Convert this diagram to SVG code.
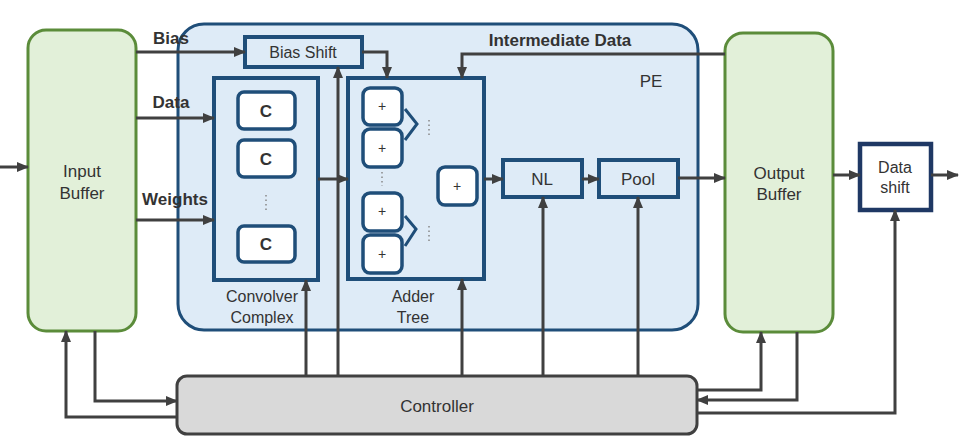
<svg xmlns="http://www.w3.org/2000/svg" width="963" height="440" viewBox="0 0 963 440">
<style>
.t{font-family:"Liberation Sans",Arial,sans-serif;fill:#333;text-anchor:middle}
.b{font-weight:bold}
.buf{fill:#e2f0d9;stroke:#5b8c3a;stroke-width:3}
.blk{fill:#deebf7;stroke:#1f4e79;stroke-width:4}
.cell{fill:#fff;stroke:#1f4e79;stroke-width:3.5}
.ln{fill:none;stroke:#404040;stroke-width:3}
.dot{fill:none;stroke:#888;stroke-width:1.5;stroke-dasharray:1.5 3}
</style>
<defs>
<marker id="a" markerUnits="userSpaceOnUse" markerWidth="12" markerHeight="10" refX="11" refY="5" orient="auto">
<path d="M0,0 L12,5 L0,10 z" fill="#404040"/>
</marker>
</defs>
<rect width="963" height="440" fill="#fff"/>
<g id="pe">
<rect x="178" y="24" width="520" height="306" rx="26" fill="#deebf7" stroke="#1f4e79" stroke-width="3"/>
<text class="t" x="651" y="87" font-size="17">PE</text>
</g>
<g id="input-buffer">
<rect class="buf" x="28" y="30" width="108" height="301" rx="18"/>
<text class="t" x="82" y="177" font-size="17">Input</text>
<text class="t" x="82" y="199" font-size="17">Buffer</text>
</g>
<g id="output-buffer">
<rect class="buf" x="725" y="33" width="108" height="299" rx="18"/>
<text class="t" x="779" y="179" font-size="17">Output</text>
<text class="t" x="779" y="200" font-size="17">Buffer</text>
</g>
<g id="bias-shift">
<rect class="blk" x="245" y="37" width="117" height="30" stroke="#1f3864"/>
<text class="t" x="303" y="58" font-size="16">Bias Shift</text>
</g>
<g id="convolver">
<rect class="blk" x="214" y="78" width="104" height="202"/>
<rect class="cell" x="238" y="92" width="57" height="37" rx="6"/>
<text class="t b" x="266" y="117" font-size="17">C</text>
<rect class="cell" x="238" y="140" width="57" height="37" rx="6"/>
<text class="t b" x="266" y="165" font-size="17">C</text>
<line class="dot" x1="266" y1="195" x2="266" y2="210"/>
<rect class="cell" x="238" y="226" width="57" height="36" rx="6"/>
<text class="t b" x="266" y="250" font-size="17">C</text>
<text class="t" x="262" y="302" font-size="16">Convolver</text>
<text class="t" x="262" y="323" font-size="16">Complex</text>
</g>
<g id="adder-tree">
<rect class="blk" x="348" y="78" width="136" height="201"/>
<rect class="cell" x="363" y="88" width="39" height="37" rx="7"/>
<text class="t" x="382" y="111" font-size="14">+</text>
<rect class="cell" x="363" y="129" width="39" height="38" rx="7"/>
<text class="t" x="382" y="153" font-size="14">+</text>
<line class="dot" x1="382" y1="172" x2="382" y2="186"/>
<rect class="cell" x="363" y="193" width="39" height="38" rx="7"/>
<text class="t" x="382" y="216" font-size="14">+</text>
<rect class="cell" x="363" y="235" width="39" height="38" rx="7"/>
<text class="t" x="382" y="259" font-size="14">+</text>
<path d="M405,109 L417,124 L405,140" fill="none" stroke="#1f4e79" stroke-width="3"/>
<path d="M405,216 L416,229 L405,246" fill="none" stroke="#1f4e79" stroke-width="3"/>
<line class="dot" x1="429" y1="120" x2="429" y2="136"/>
<line class="dot" x1="429" y1="226" x2="429" y2="241"/>
<rect class="cell" x="438" y="167" width="39" height="38" rx="7"/>
<text class="t" x="457" y="191" font-size="14">+</text>
<text class="t" x="413" y="302" font-size="16">Adder</text>
<text class="t" x="413" y="323" font-size="16">Tree</text>
</g>
<g id="nl">
<rect class="blk" x="503" y="160" width="79" height="37"/>
<text class="t" x="542" y="185" font-size="17">NL</text>
</g>
<g id="pool">
<rect class="blk" x="599" y="160" width="79" height="37"/>
<text class="t" x="638" y="185" font-size="17">Pool</text>
</g>
<g id="data-shift">
<rect x="860" y="144" width="71" height="66" fill="#fff" stroke="#1f3864" stroke-width="4.5"/>
<text class="t" x="895" y="173" font-size="16">Data</text>
<text class="t" x="895" y="193" font-size="16">shift</text>
</g>
<g id="controller">
<rect x="177" y="376" width="520" height="58" rx="10" fill="#d9d9d9" stroke="#404040" stroke-width="3"/>
<text class="t" x="437" y="412" font-size="17">Controller</text>
</g>
<g id="connectors">
<line class="ln" x1="0" y1="167" x2="28" y2="167" marker-end="url(#a)"/>
<line class="ln" x1="136" y1="52" x2="245" y2="52" marker-end="url(#a)"/>
<line class="ln" x1="136" y1="118" x2="214" y2="118" marker-end="url(#a)"/>
<line class="ln" x1="136" y1="220" x2="214" y2="220" marker-end="url(#a)"/>
<path class="ln" d="M362,52 H387 V78" marker-end="url(#a)"/>
<path class="ln" d="M725,54 H462 V78" marker-end="url(#a)"/>
<line class="ln" x1="318" y1="179" x2="348" y2="179" marker-end="url(#a)"/>
<line class="ln" x1="484" y1="179" x2="503" y2="179" marker-end="url(#a)"/>
<line class="ln" x1="582" y1="179" x2="599" y2="179" marker-end="url(#a)"/>
<line class="ln" x1="678" y1="178" x2="725" y2="178" marker-end="url(#a)"/>
<line class="ln" x1="833" y1="175" x2="860" y2="175" marker-end="url(#a)"/>
<line class="ln" x1="931" y1="175" x2="958" y2="175" marker-end="url(#a)"/>
<line class="ln" x1="306" y1="376" x2="306" y2="280" marker-end="url(#a)"/>
<line class="ln" x1="338" y1="376" x2="338" y2="67" marker-end="url(#a)"/>
<line class="ln" x1="462" y1="376" x2="462" y2="279" marker-end="url(#a)"/>
<line class="ln" x1="543" y1="376" x2="543" y2="197" marker-end="url(#a)"/>
<line class="ln" x1="638" y1="376" x2="638" y2="197" marker-end="url(#a)"/>
<path class="ln" d="M177,417 H66 V331" marker-end="url(#a)"/>
<path class="ln" d="M95,331 V401 H177" marker-end="url(#a)"/>
<path class="ln" d="M697,390 H761 V332" marker-end="url(#a)"/>
<path class="ln" d="M797,332 V400 H697" marker-end="url(#a)"/>
<path class="ln" d="M697,413 H895 V210" marker-end="url(#a)"/>
<text class="t b" x="171" y="44" font-size="17">Bias</text>
<text class="t b" x="171" y="108" font-size="17">Data</text>
<text class="t b" x="175" y="205" font-size="17">Weights</text>
<text class="t b" x="560" y="46" font-size="17">Intermediate Data</text>
</g>
</svg>
